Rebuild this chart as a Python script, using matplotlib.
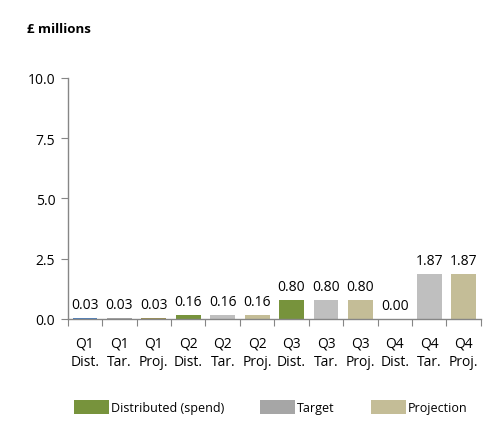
import numpy as np
import matplotlib
matplotlib.use("Agg")
import matplotlib.pyplot as plt
from matplotlib.patches import Patch

# data
categories = ["Q1\nDist.", "Q1\nTar.", "Q1\nProj.", "Q2\nDist.", "Q2\nTar.", "Q2\nProj.",
              "Q3\nDist.", "Q3\nTar.", "Q3\nProj.", "Q4\nDist.", "Q4\nTar.", "Q4\nProj."]
values = [0.03, 0.03, 0.03, 0.16, 0.16, 0.16, 0.80, 0.80, 0.80, 0.00, 1.87, 1.87]
bar_colors = ['#4F81BD', '#A5A5A5', '#9C8F52', '#77933C', '#BFBFBF', '#C4BD97',
              '#77933C', '#BFBFBF', '#C4BD97', '#77933C', '#BFBFBF', '#C4BD97']
legend_labels = ["Distributed (spend)", "Target", "Projection"]
legend_colors = ['#77933C', '#A6A6A6', '#C4BD97']
yticks = [0.0, 2.5, 5.0, 7.5, 10.0]

plt.rcParams['font.family'] = ['Open Sans', 'DejaVu Sans']

fig = plt.figure(figsize=(5.02, 4.27), dpi=100)
ax = fig.add_axes([0.135, 0.251, 0.823, 0.564])

x = np.arange(len(values))
ax.bar(x, values, width=0.72, color=bar_colors, zorder=2)

for xi, v in zip(x, values):
    ax.text(xi, v + 0.25, "%.2f" % v, ha='center', va='bottom', fontsize=10, color='#000000')

ax.set_xlim(-0.5, len(values) - 0.5)
ax.set_ylim(0, 10)
ax.set_yticks(yticks)
ax.set_yticklabels(["%.1f" % t for t in yticks], fontsize=10)

# ticks between categories, labels centred
ax.set_xticks(np.arange(-0.5, len(values)), minor=False)
ax.set_xticklabels([])
ax.set_xticks(x, minor=True)
ax.set_xticklabels(categories, minor=True, fontsize=10, linespacing=1.3)
ax.tick_params(axis='x', which='minor', length=0, pad=12)
ax.tick_params(axis='x', which='major', length=5, color='#868686', direction='out')
ax.tick_params(axis='y', length=5, color='#868686', direction='out', pad=4)

for s in ['top', 'right']:
    ax.spines[s].set_visible(False)
for s in ['left', 'bottom']:
    ax.spines[s].set_color('#868686')
    ax.spines[s].set_linewidth(1.0)

fig.text(0.054, 0.932, "£ millions", fontsize=9.5, fontweight='bold', ha='left', va='center')

handles = [Patch(facecolor=c, edgecolor='none') for c in legend_colors]
fig.legend(handles, legend_labels, loc='center left', bbox_to_anchor=(0.147, 0.045), ncol=3,
           frameon=False, fontsize=9, handlelength=2.8, handleheight=1.4,
           handletextpad=0.15, columnspacing=2.9, borderpad=0, borderaxespad=0)

fig.savefig("out.png", dpi=100)
